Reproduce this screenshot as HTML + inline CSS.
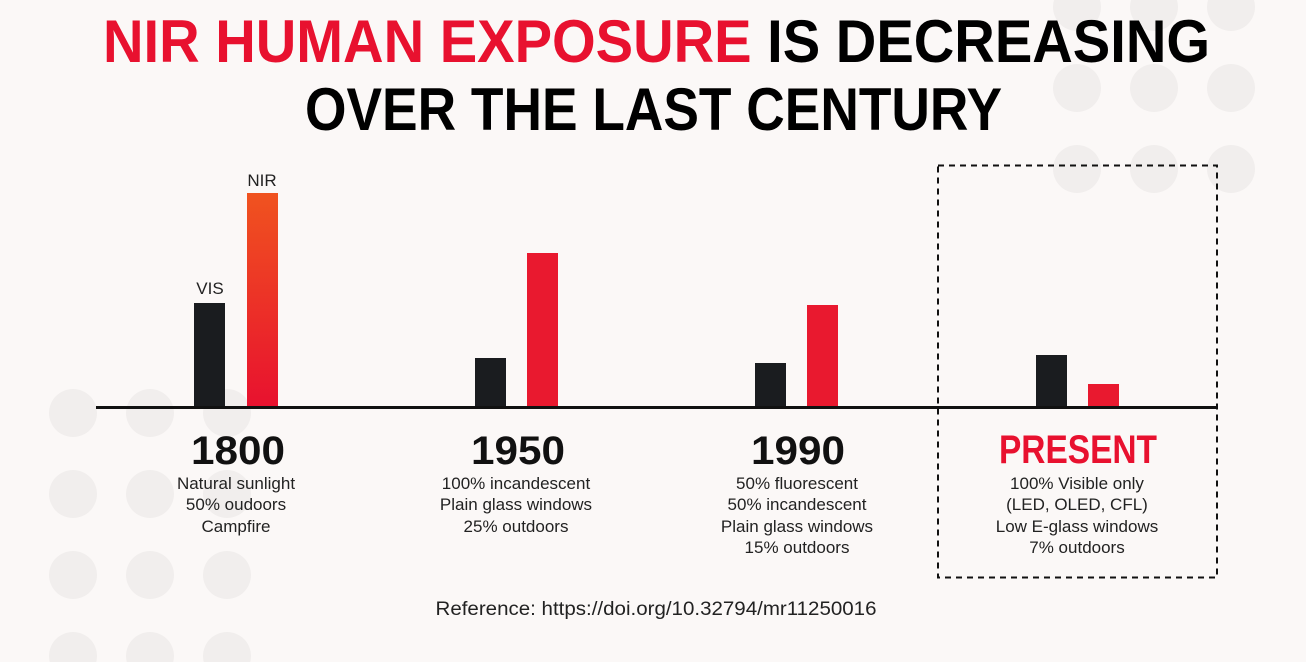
<!DOCTYPE html>
<html><head><meta charset="utf-8"><style>
html,body{margin:0;padding:0;background:#fbf8f7;}
svg{display:block;}
</style></head><body>
<svg width="1306" height="662" viewBox="0 0 1306 662" xmlns="http://www.w3.org/2000/svg">
<defs>
<linearGradient id="g" x1="0" y1="0" x2="0" y2="1">
<stop offset="0" stop-color="#f0531f"/><stop offset="1" stop-color="#e8112f"/>
</linearGradient>
</defs>
<rect width="1306" height="662" fill="#fbf8f7"/>
<g fill="#f1eeed">
<circle cx="73" cy="413" r="24"/><circle cx="150" cy="413" r="24"/><circle cx="227" cy="413" r="24"/>
<circle cx="73" cy="494" r="24"/><circle cx="150" cy="494" r="24"/><circle cx="227" cy="494" r="24"/>
<circle cx="73" cy="575" r="24"/><circle cx="150" cy="575" r="24"/><circle cx="227" cy="575" r="24"/>
<circle cx="73" cy="656" r="24"/><circle cx="150" cy="656" r="24"/><circle cx="227" cy="656" r="24"/>
<circle cx="1077" cy="7" r="24"/><circle cx="1154" cy="7" r="24"/><circle cx="1231" cy="7" r="24"/>
<circle cx="1077" cy="88" r="24"/><circle cx="1154" cy="88" r="24"/><circle cx="1231" cy="88" r="24"/>
<circle cx="1077" cy="169" r="24"/><circle cx="1154" cy="169" r="24"/><circle cx="1231" cy="169" r="24"/>
</g>
<g font-family="Liberation Sans, sans-serif" font-weight="bold" font-size="60">
<text x="103" y="62" textLength="1107" lengthAdjust="spacingAndGlyphs"><tspan fill="#e8112f">NIR HUMAN EXPOSURE</tspan><tspan fill="#000"> IS DECREASING</tspan></text>
<text x="305" y="130" fill="#000" textLength="697" lengthAdjust="spacingAndGlyphs">OVER THE LAST CENTURY</text>
</g>
<rect x="938" y="165.5" width="279" height="412" fill="none" stroke="#111" stroke-width="2" stroke-dasharray="6,5"/>
<rect x="194" y="303" width="31" height="105" fill="#1a1c1f"/>
<rect x="247" y="193" width="31" height="215" fill="url(#g)"/>
<rect x="475" y="358" width="31" height="50" fill="#1a1c1f"/>
<rect x="527" y="253" width="31" height="155" fill="#e9192f"/>
<rect x="755" y="363" width="31" height="45" fill="#1a1c1f"/>
<rect x="807" y="305" width="31" height="103" fill="#e9192f"/>
<rect x="1036" y="355" width="31" height="53" fill="#1a1c1f"/>
<rect x="1088" y="384" width="31" height="24" fill="#e9192f"/>
<rect x="96" y="406" width="1121" height="3" fill="#111"/>
<g font-family="Liberation Sans, sans-serif" fill="#222" font-size="17" text-anchor="middle">
<text x="210" y="294">VIS</text>
<text x="262" y="186">NIR</text>
</g>
<g font-family="Liberation Sans, sans-serif" font-weight="bold" font-size="40" text-anchor="middle">
<text x="238" y="464" fill="#111" textLength="94" lengthAdjust="spacingAndGlyphs">1800</text>
<text x="518" y="464" fill="#111" textLength="94" lengthAdjust="spacingAndGlyphs">1950</text>
<text x="798" y="464" fill="#111" textLength="94" lengthAdjust="spacingAndGlyphs">1990</text>
<text x="1078" y="463" fill="#e8112f" textLength="158" lengthAdjust="spacingAndGlyphs">PRESENT</text>
</g>
<g font-family="Liberation Sans, sans-serif" fill="#222" font-size="17" text-anchor="middle">
<text x="236" y="489">Natural sunlight</text>
<text x="236" y="510">50% oudoors</text>
<text x="236" y="532">Campfire</text>
<text x="516" y="489">100% incandescent</text>
<text x="516" y="510">Plain glass windows</text>
<text x="516" y="532">25% outdoors</text>
<text x="797" y="489">50% fluorescent</text>
<text x="797" y="510">50% incandescent</text>
<text x="797" y="532">Plain glass windows</text>
<text x="797" y="553">15% outdoors</text>
<text x="1077" y="489">100% Visible only</text>
<text x="1077" y="510">(LED, OLED, CFL)</text>
<text x="1077" y="532">Low E-glass windows</text>
<text x="1077" y="553">7% outdoors</text>
<text x="656" y="615" font-size="19" textLength="441" lengthAdjust="spacingAndGlyphs">Reference: https://doi.org/10.32794/mr11250016</text>
</g>
</svg>
</body></html>
